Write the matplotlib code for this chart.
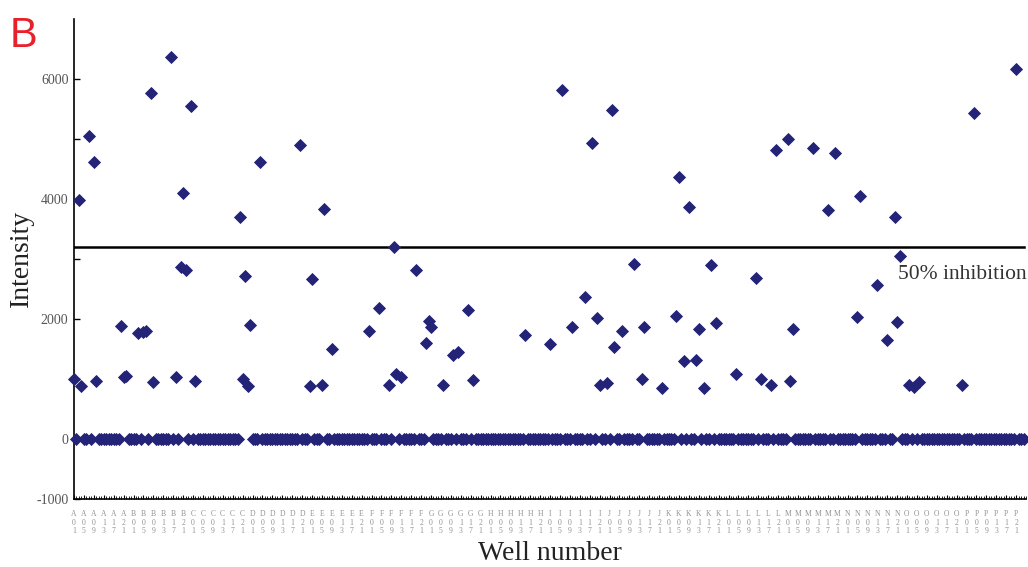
import numpy as np
import matplotlib
matplotlib.use("Agg")
import matplotlib.pyplot as plt
from matplotlib.ticker import FixedLocator, MultipleLocator

# ---- data ----
plate_rows = list("ABCDEFGHIJKLMNOP")
n_cols = 24
label_cols = [1, 5, 9, 13, 17, 21]

hit_wells = [0, 2, 3, 6, 8, 9, 19, 20, 21, 26, 28, 29, 31, 32, 39, 41, 43, 44, 45, 47, 49,
             67, 68, 69, 70, 71, 75, 91, 95, 96, 100, 101, 104, 119, 123, 127, 129, 130, 132,
             138, 142, 143, 144, 149, 153, 155, 159, 161, 182, 192, 197, 201, 206, 209, 211,
             212, 215, 217, 218, 221, 226, 229, 230, 237, 243, 244, 246, 248, 251, 252, 254,
             257, 259, 267, 275, 277, 281, 283, 288, 289, 290, 298, 304, 307, 316, 317, 324,
             328, 331, 332, 333, 337, 339, 341, 358, 363, 380]
hit_intensity = [990, 3980, 880, 5050, 4610, 960, 1880, 1030, 1050, 1760, 1770, 1790, 5770, 940,
                 6370, 1030, 2860, 4090, 2810, 5550, 960,
                 3700, 990, 2710, 880, 1890, 4610, 4890, 870, 2660, 900, 3830, 1500, 1790, 2170,
                 890, 3190, 1080, 1020,
                 2810, 1590, 1960, 1860, 890, 1390, 1440, 2150, 970, 1720, 1570, 5810, 1860,
                 2360, 4930, 2010,
                 890, 920, 5490, 1530, 1790, 2920, 1000, 1860, 850, 2050, 4370, 1300, 3870,
                 1310, 1830, 850,
                 2900, 1930, 1080, 2680, 1000, 890, 4820, 4990, 960, 1830, 4850, 3820, 4770,
                 2030, 4040, 2570,
                 1640, 3700, 1940, 3050, 900, 860, 940, 890, 5440, 6160]
inhibition_50 = 3200

n_wells = len(plate_rows) * n_cols
intensity = np.zeros(n_wells)
intensity[hit_wells] = hit_intensity
wells = np.arange(n_wells)

tick_pos = [r * n_cols + (c - 1) for r in range(len(plate_rows)) for c in label_cols]
tick_lab = ["%s\n%d\n%d" % (plate_rows[r], c // 10, c % 10)
            for r in range(len(plate_rows)) for c in label_cols]

# ---- figure ----
plt.rcParams['axes.unicode_minus'] = False
serif = ['Liberation Serif', 'DejaVu Serif']

fig = plt.figure(figsize=(10.28, 5.67), dpi=100)
ax = fig.add_axes([74 / 1028, 68.5 / 567, 952 / 1028, 479.5 / 567])

ax.plot(wells, intensity, linestyle='none', marker='D', markersize=5.8,
        color='#232378', markeredgewidth=0.6, zorder=3, clip_on=False)
ax.plot([0, n_wells - 1], [inhibition_50, inhibition_50], color='black', lw=1.8, zorder=2)
ax.text(332.4, 2660, '50% inhibition', family=serif, fontsize=15.5, color='#333333',
        ha='left', va='baseline')

ax.set_xlim(0, n_wells)
ax.set_ylim(-1000, 7000)
for s in ['top', 'right']:
    ax.spines[s].set_visible(False)
ax.spines['left'].set_linewidth(1.2)
ax.spines['bottom'].set_linewidth(1.2)

ax.set_yticks([-1000, 0, 2000, 4000, 6000])
ax.set_yticklabels(['-1000', '0', '2000', '4000', '6000'])
ax.yaxis.set_minor_locator(FixedLocator([1000, 3000, 5000]))
ax.tick_params(axis='y', which='both', direction='in', length=4, width=1, pad=4,
               labelsize=10, labelcolor='#555555')
for t in ax.get_yticklabels():
    t.set_family(serif)

ax.set_xticks(tick_pos)
ax.set_xticklabels(tick_lab)
ax.xaxis.set_minor_locator(MultipleLocator(1))
ax.tick_params(axis='x', which='major', direction='in', length=3, width=0.8, pad=8,
               labelsize=5.5, labelcolor='#909090')
ax.tick_params(axis='x', which='minor', direction='in', length=2, width=0.6)
for t in ax.get_xticklabels():
    t.set_family(serif)
    t.set_linespacing(1.15)

ax.set_ylabel('Intensity', family=serif, fontsize=20, color='#222222')
ax.yaxis.set_label_coords(-0.042, 0.5)
ax.set_xlabel('Well number', family=serif, fontsize=20, color='#222222', labelpad=4)

fig.text(10 / 1028, 1 - 47 / 567, 'B', family=['Liberation Sans', 'DejaVu Sans'],
         fontsize=30, color='#e8202a', ha='left', va='baseline')

fig.savefig('out.png', dpi=100)
